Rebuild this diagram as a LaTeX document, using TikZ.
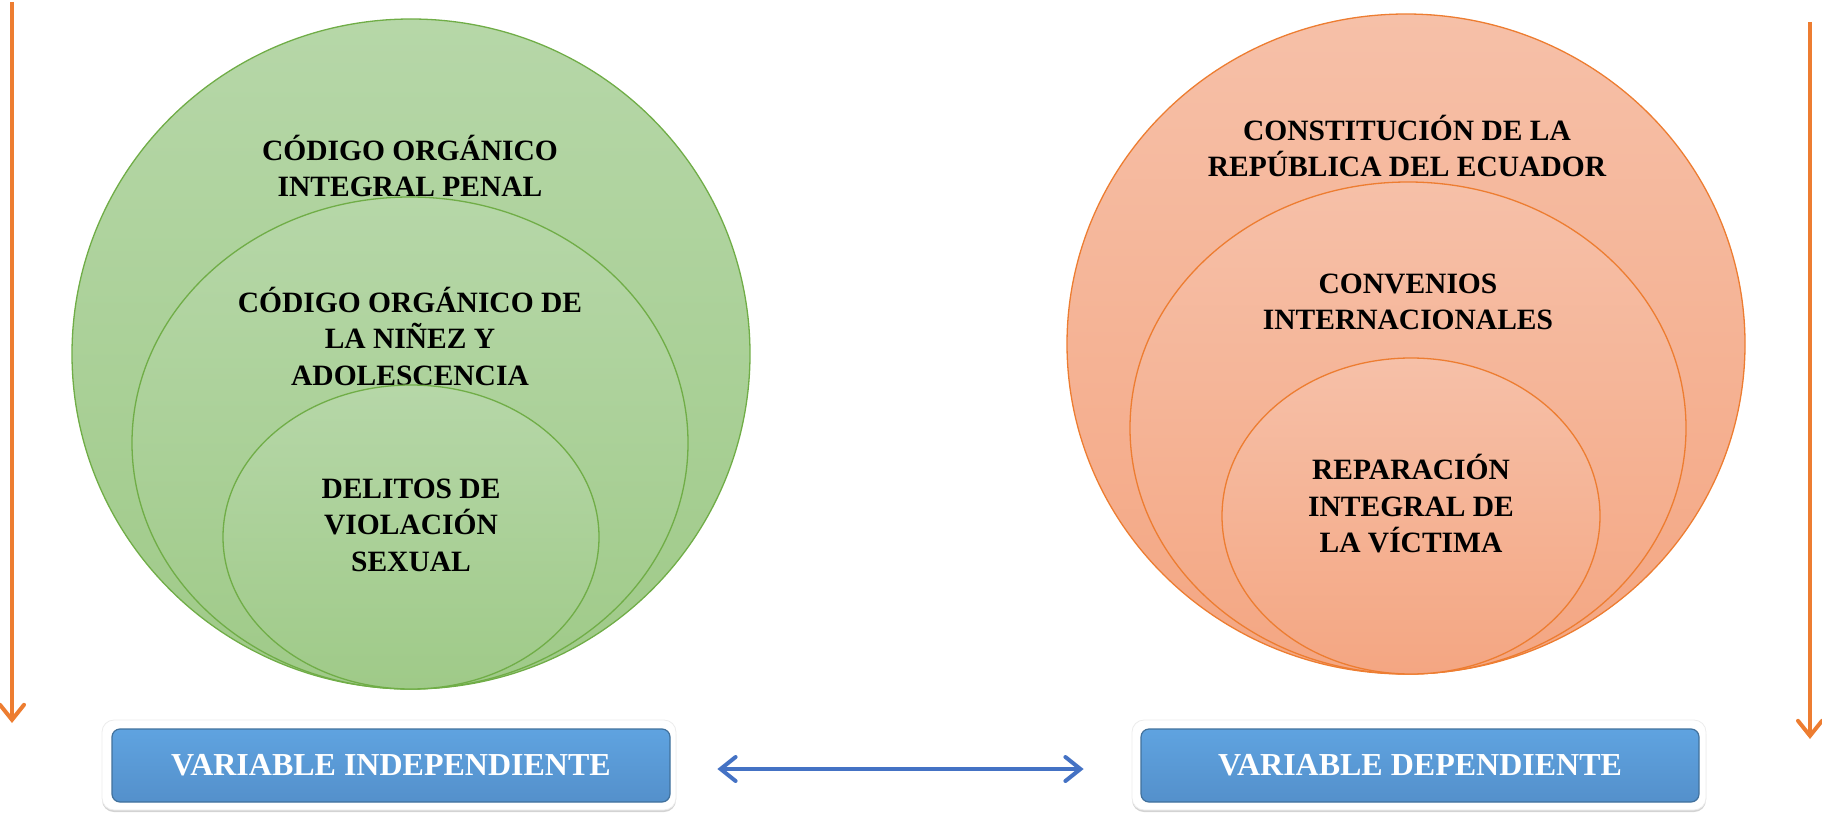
\documentclass[tikz,border=0pt]{standalone}
\usepackage{fontspec}
\setmainfont{Liberation Serif}
\usetikzlibrary{shapes.geometric,arrows.meta,shadows,calc}

\definecolor{grnTop}{HTML}{B6D7A8}
\definecolor{grnBot}{HTML}{9FCA88}
\definecolor{grnLine}{HTML}{70AD47}
\definecolor{orgTop}{HTML}{F6C0A8}
\definecolor{orgBot}{HTML}{F4A682}
\definecolor{orgLine}{HTML}{ED7D31}
\definecolor{bluTop}{HTML}{5FA3E0}
\definecolor{bluBot}{HTML}{5490CB}
\definecolor{bluLine}{HTML}{41719C}
\definecolor{arrBlue}{HTML}{4472C4}

\begin{document}
\begin{tikzpicture}[x=1pt,y=-1pt,
  ringG/.style={ellipse, draw=grnLine, line width=1.3pt, top color=grnTop, bottom color=grnBot, inner sep=0pt},
  ringO/.style={ellipse, draw=orgLine, line width=1.3pt, top color=orgTop, bottom color=orgBot, inner sep=0pt},
  lbl/.style={align=center, font=\fontsize{29.5}{36.5}\selectfont\bfseries},
  frame/.style={rounded corners=12pt, fill=white, draw=gray!15, line width=0.8pt,
    drop shadow={shadow xshift=0pt, shadow yshift=-2pt, opacity=0.35}, minimum width=574pt, minimum height=90pt},
  varbox/.style={rounded corners=8pt, top color=bluTop, bottom color=bluBot, draw=bluLine, line width=1.2pt,
    text=white, font=\fontsize{32}{36}\selectfont\bfseries, minimum width=558pt, minimum height=73pt},
  barb/.tip={Straight Barb[length=15pt,width=24pt,line cap=round]},
  flow/.style={draw=orgLine, line width=4pt, -barb}
]
\useasboundingbox (0,0) rectangle (1822,813);

% left side: independent variable
\node[ringG, minimum width=678pt, minimum height=670pt] (coip) at (411,354) {};
\node[lbl] (coipT) at (410,166) {CÓDIGO ORGÁNICO\\INTEGRAL PENAL};
\node[ringG, minimum width=556pt, minimum height=492pt] (cona) at (410,443) {};
\node[lbl] (conaT) at (410,336) {CÓDIGO ORGÁNICO DE\\LA NIÑEZ Y\\ADOLESCENCIA};
\node[ringG, minimum width=376pt, minimum height=304pt] (deli) at (411,537) {};
\node[lbl] (deliT) at (411,525) {DELITOS DE\\VIOLACIÓN\\SEXUAL};

% right side: dependent variable
\node[ringO, minimum width=678pt, minimum height=660pt] (cons) at (1406,344) {};
\node[lbl] (consT) at (1407,146) {CONSTITUCIÓN DE LA\\REPÚBLICA DEL ECUADOR};
\node[ringO, minimum width=556pt, minimum height=492pt] (conv) at (1408,428) {};
\node[lbl] (convT) at (1408,302) {CONVENIOS\\INTERNACIONALES};
\node[ringO, minimum width=378pt, minimum height=316pt] (repa) at (1411,516) {};
\node[lbl] (repaT) at (1411,504) {REPARACIÓN\\INTEGRAL DE\\LA VÍCTIMA};

% variable boxes
\node[frame] (viF) at (389,765) {};
\node[varbox] (vi) at (391,765.5) {VARIABLE INDEPENDIENTE};
\node[frame] (vdF) at (1419,765) {};
\node[varbox] (vd) at (1420,765.5) {VARIABLE DEPENDIENTE};

\draw[arrBlue, line width=4pt, barb-barb]
  ($(viF.east)+(41,4)$) -- ($(vdF.west)+(-48,4)$);

% side arrows
\coordinate (lTop) at (12,2);
\coordinate (lEnd) at (12,723);
\coordinate (rTop) at (1810,22);
\coordinate (rEnd) at (1810,739);
\draw[flow] (lTop) -- (lEnd);
\draw[flow] (rTop) -- (rEnd);

\end{tikzpicture}
\end{document}
